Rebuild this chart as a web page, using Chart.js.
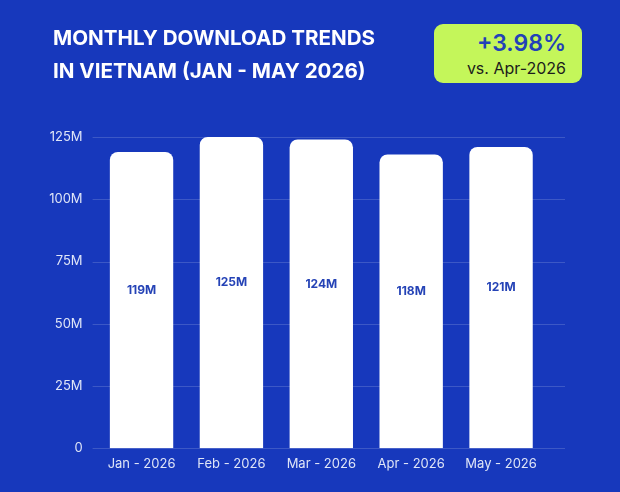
<!DOCTYPE html>
<html>
<head>
<meta charset="utf-8">
<script src="https://cdn.jsdelivr.net/npm/chart.js@4"></script>
<style>
  html, body { margin: 0; padding: 0; }
  body { width: 620px; height: 492px; background: #1738bc; position: relative; overflow: hidden; font-family: Inter, "Noto Sans", sans-serif; }
  #wrap { position: absolute; left: 0; top: 0; width: 620px; height: 492px; }
  .title { position: absolute; left: 53px; top: 21px; color: #fff; font-weight: 700; font-size: 20.6px; line-height: 33px; }
  .badge { position: absolute; left: 434px; top: 24px; width: 148px; height: 59px; background: #c4f65a; border-radius: 9px; text-align: right; box-sizing: border-box; padding-right: 16px; }
  .badge .pct { color: #2241b8; font-weight: 600; font-size: 23px; line-height: 23px; margin-top: 8px; }
  .badge .vs { color: #1c1c1c; font-size: 16px; line-height: 18px; margin-top: 4px; }
</style>
</head>
<body>
<div id="wrap"><canvas id="dlChart" width="620" height="492"></canvas></div>
<div class="title">MONTHLY DOWNLOAD TRENDS<br>IN VIETNAM (JAN - MAY 2026)</div>
<div class="badge"><div class="pct">+3.98%</div><div class="vs">vs. Apr-2026</div></div>
<script>
// monthly downloads, millions
const months = ['Jan - 2026', 'Feb - 2026', 'Mar - 2026', 'Apr - 2026', 'May - 2026'];
const downloads = [119, 125, 124, 118, 121];
const yTicks = [0, 25, 50, 75, 100, 125];

// grid lines run a bit past the plot area on the right
const gridPlugin = {
  id: 'wideGrid',
  beforeDatasetsDraw(chart) {
    const c = chart.ctx, y = chart.scales.y, a = chart.chartArea;
    c.save();
    c.strokeStyle = 'rgba(255,255,255,0.16)';
    c.lineWidth = 1;
    y.ticks.forEach(t => {
      const py = Math.round(y.getPixelForValue(t.value)) + 0.5;
      c.beginPath();
      c.moveTo(a.left - 4, py);
      c.lineTo(a.right + 19, py);
      c.stroke();
    });
    c.restore();
  }
};

const valueLabels = {
  id: 'valueLabels',
  afterDatasetsDraw(chart) {
    const c = chart.ctx;
    c.save();
    c.fillStyle = '#2543b6';
    c.font = '700 12px Inter, "Noto Sans", sans-serif';
    c.textAlign = 'center';
    c.textBaseline = 'middle';
    chart.getDatasetMeta(0).data.forEach((bar, i) => {
      c.fillText(downloads[i] + 'M', bar.x, (bar.y + bar.base) / 2 - 10);
    });
    c.restore();
  }
};

new Chart(document.getElementById('dlChart'), {
  type: 'bar',
  data: {
    labels: months,
    datasets: [{
      label: 'Downloads',
      data: downloads,
      backgroundColor: '#ffffff',
      borderRadius: { topLeft: 8, topRight: 8 },
      borderSkipped: 'bottom',
      barPercentage: 0.705,
      categoryPercentage: 1
    }]
  },
  options: {
    responsive: false,
    animation: false,
    layout: { padding: { left: 0, right: 74, top: 137, bottom: 0 } },
    plugins: { legend: { display: false }, tooltip: { enabled: false } },
    scales: {
      x: {
        grid: { display: false },
        border: { display: false },
        ticks: { color: '#dfe5f7', font: { size: 13, family: 'Inter' }, padding: 0 },
        afterFit(s) { s.height = 43.7; }
      },
      y: {
        min: 0, max: 125,
        grid: { display: false },
        border: { display: false },
        afterBuildTicks(s) { s.ticks = yTicks.map(v => ({ value: v })); },
        afterFit(s) { s.width = 96.6; },
        ticks: {
          color: '#dfe5f7',
          font: { size: 13, family: 'Inter' },
          padding: 6,
          callback: v => v === 0 ? '0' : v + 'M'
        }
      }
    }
  },
  plugins: [gridPlugin, valueLabels]
});
</script>
</body>
</html>
